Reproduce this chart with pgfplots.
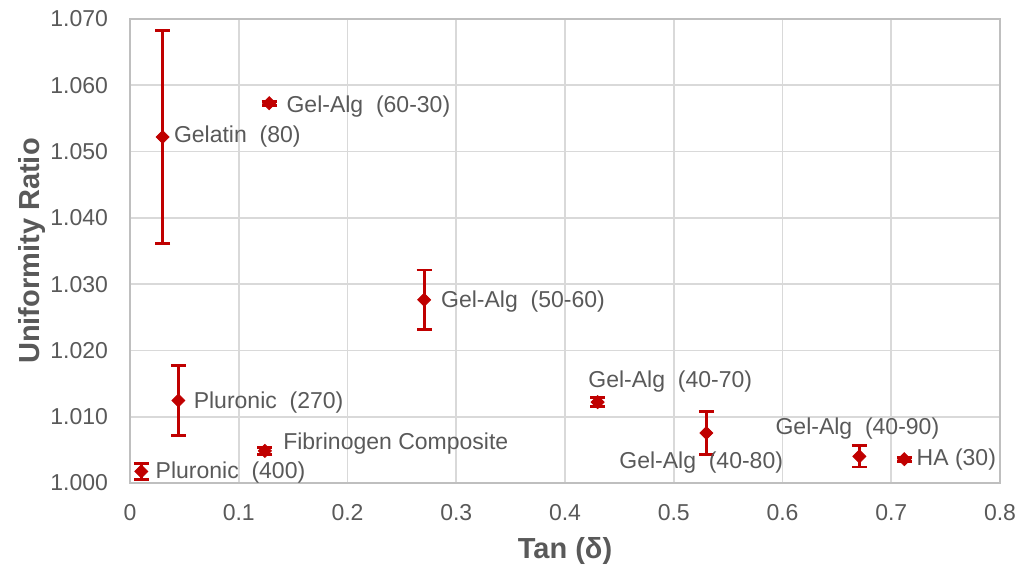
\documentclass[border=0pt]{standalone}
\usepackage{pgfplots}
\pgfplotsset{compat=1.18}
\usepackage{pgfplotstable}
\usepackage{fontspec}
\setmainfont{Liberation Sans}
\definecolor{darkred}{HTML}{C00000}
\definecolor{txt}{HTML}{595959}
\definecolor{gridc}{HTML}{D9D9D9}
\definecolor{axisl}{HTML}{BFBFBF}
\tikzset{lbl/.style={font=\fontsize{11.5}{13}\selectfont, text=txt, inner sep=0pt}}

\pgfplotstableread{
x y err
0.030 1.0522 0.0161
0.128 1.0573 0.0003
0.0445 1.01245 0.0053
0.0104 1.00175 0.00125
0.124 1.00484 0.0005
0.2705 1.02764 0.0045
0.430 1.0122 0.0007
0.530 1.00754 0.0033
0.6707 1.00401 0.0016
0.712 1.0036 0.0003
}\data

\begin{document}
\begin{tikzpicture}
\useasboundingbox (-65pt,-44.5pt) rectangle (445pt,241.5pt);
\begin{axis}[
  at={(0pt,0pt)}, anchor=south west,
  scale only axis,
  width=435pt, height=232pt,
  xmin=0, xmax=0.8, ymin=1.000, ymax=1.070,
  xtick={0,0.1,0.2,0.3,0.4,0.5,0.6,0.7,0.8},
  ytick={1.000,1.010,1.020,1.030,1.040,1.050,1.060,1.070},
  grid=major,
  major grid style={gridc, line width=0.8pt},
  axis line style={axisl, line width=0.8pt},
  tick style={draw=none},
  tick label style={font=\fontsize{11.5}{13}\selectfont, text=txt},
  /pgf/number format/assume math mode=true,
  xticklabel style={/pgf/number format/.cd, fixed, precision=1},
  yticklabel style={/pgf/number format/.cd, fixed, fixed zerofill, precision=3},
  scaled y ticks=false,
  scaled x ticks=false,
  xticklabel shift=7pt,
  yticklabel shift=7.5pt,
  xlabel={Tan (δ)},
  ylabel={Uniformity Ratio},
  label style={font=\fontsize{14.5}{17}\selectfont\bfseries, text=txt},
  xlabel style={at={(axis description cs:0.5,-0.147)}, anchor=center},
  ylabel style={at={(axis description cs:-0.113,0.5)}, anchor=center},
  clip=false,
]
\addplot[
  only marks,
  mark=square*,
  mark size=2.3pt,
  color=darkred,
  mark options={fill=darkred, draw=darkred, rotate=45},
  error bars/.cd,
    y dir=both, y explicit,
    error bar style={line width=1.4pt, darkred},
    error mark options={rotate=90, darkred, mark size=3.75pt, line width=1.4pt},
] table[x=x, y=y, y error=err] {\data};
\node[lbl, anchor=west, xshift=5.5pt] at (axis cs:0.030,1.0522) {Gelatin\ \ (80)};
\node[lbl, anchor=west, xshift=8.5pt, yshift=-1.5pt] at (axis cs:0.128,1.0573) {Gel-Alg\ \ (60-30)};
\node[lbl, anchor=west, xshift=7.5pt, yshift=-1pt] at (axis cs:0.0445,1.01245) {Pluronic\ \ (270)};
\node[lbl, anchor=west, xshift=7pt, yshift=-0.7pt] at (axis cs:0.0104,1.00175) {Pluronic\ \ (400)};
\node[lbl, anchor=west, xshift=9pt, yshift=3.5pt] at (axis cs:0.124,1.00484) {Fibrinogen Composite};
\node[lbl, anchor=west, xshift=8.3pt, yshift=-0.8pt] at (axis cs:0.2705,1.02764) {Gel-Alg\ \ (50-60)};
\node[lbl, anchor=center, xshift=36.3pt, yshift=10.3pt] at (axis cs:0.430,1.0122) {Gel-Alg\ \ (40-70)};
\node[lbl, anchor=center, xshift=-2.6pt, yshift=-15pt] at (axis cs:0.530,1.00754) {Gel-Alg\ \ (40-80)};
\node[lbl, anchor=center, xshift=-1pt, yshift=13.8pt] at (axis cs:0.6707,1.00401) {Gel-Alg\ \ (40-90)};
\node[lbl, anchor=west, xshift=6pt] at (axis cs:0.712,1.0036) {HA (30)};
\end{axis}
\end{tikzpicture}
\end{document}
